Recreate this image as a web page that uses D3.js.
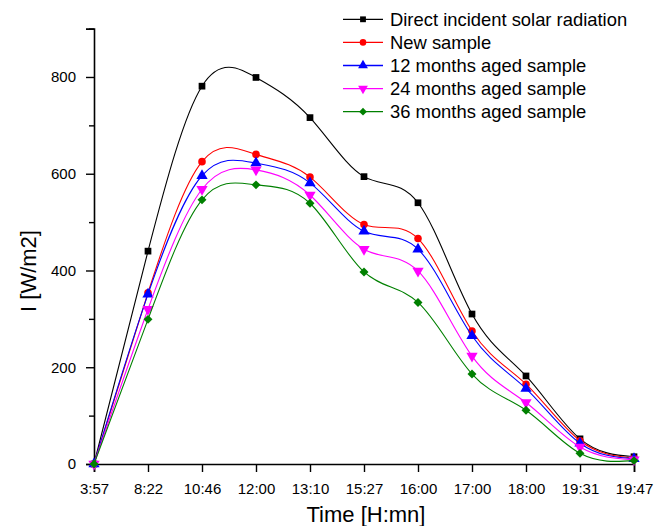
<!DOCTYPE html>
<html><head><meta charset="utf-8">
<script src="https://cdn.jsdelivr.net/npm/d3@7"></script>
<style>body{margin:0;background:#fff}svg{display:block}text{font-family:"Liberation Sans",Arial,sans-serif}</style>
</head><body><svg id="c" width="656" height="526"></svg>
<script>
const times = ["3:57","8:22","10:46","12:00","13:10","15:27","16:00","17:00","18:00","19:31","19:47"];
const direct = [0,440,781,799,716,594,540,310,182,52,15];
const newSample = [0,354,625,640,593,495,466,275,165,48,12];
const aged12 = [0,351,596,622,581,481,444,265,156,43,11];
const aged24 = [0,320,568,608,556,444,399,223,127,35,9];
const aged36 = [0,299,546,577,539,397,334,186,111,22,7];
const seriesNames = ["Direct incident solar radiation","New sample","12 months aged sample","24 months aged sample","36 months aged sample"];
const seriesColors = ["#000000","#ff0000","#0000ff","#ff00ff","#008000"];
const seriesSymbols = ["square","circle","up","down","diamond"];
const yTicks = [0,200,400,600,800];
const yMinor = [100,300,500,700,900];
const seriesData = [direct,newSample,aged12,aged24,aged36];

const svg = d3.select("#c");
const x0 = 94, x1 = 634, yb = 464;
const x = d3.scalePoint().domain(times).range([x0,x1]);
const y = d3.scaleLinear().domain([0,900]).range([yb,28.6]);

// axes
svg.append("g").attr("transform",`translate(0,${yb})`)
  .call(d3.axisBottom(x).tickSizeOuter(0).tickSize(8).tickPadding(11));
svg.append("g").attr("transform",`translate(${x0},0)`)
  .call(d3.axisLeft(y).tickValues(yTicks).tickSizeOuter(0).tickSize(8).tickPadding(10));
svg.append("g").attr("transform",`translate(${x0},0)`)
  .call(d3.axisLeft(y).tickValues(yMinor).tickSizeOuter(0).tickSize(5).tickFormat(""))
  .select(".domain").remove();
svg.selectAll(".domain").attr("stroke","#000").attr("stroke-width",1.6);
svg.selectAll(".tick line").attr("stroke","#000").attr("stroke-width",1.4);
svg.selectAll(".tick text").attr("font-size",15).attr("fill","#000").style("font-family","'Liberation Sans',Arial,sans-serif");

// axis titles
svg.append("text").attr("x",366).attr("y",522).attr("text-anchor","middle").attr("font-size",22).text("Time [H:mn]");
svg.append("text").attr("transform","translate(36,271) rotate(-90)").attr("text-anchor","middle").attr("font-size",22).text("I [W/m2]");

function symPath(s, scale){
  const sz = {square:45, circle:45, up:55, down:55, diamond:40}[s] * scale;
  const type = {square:d3.symbolSquare, circle:d3.symbolCircle, up:d3.symbolTriangle, down:d3.symbolTriangle, diamond:d3.symbolSquare}[s];
  return d3.symbol(type, sz)();
}
function symRot(s){ return s==="down" ? " rotate(180)" : (s==="diamond" ? " rotate(45)" : ""); }

const line = d3.line().x((d,i)=>x(times[i])).y(d=>y(d)).curve(d3.curveNatural);
seriesData.forEach((data,k)=>{
  const g = svg.append("g");
  g.append("path").datum(data).attr("d",line).attr("fill","none").attr("stroke",seriesColors[k]).attr("stroke-width",1.1);
  g.selectAll("path.m").data(data).join("path").attr("class","m")
    .attr("d",symPath(seriesSymbols[k],1))
    .attr("transform",(d,i)=>`translate(${x(times[i])},${y(d)})${symRot(seriesSymbols[k])}`)
    .attr("fill",seriesColors[k]);
});

// legend
const lg = svg.append("g");
seriesNames.forEach((n,k)=>{
  const yy = 19.3 + k*23.1;
  lg.append("line").attr("x1",343).attr("x2",383).attr("y1",yy).attr("y2",yy).attr("stroke",seriesColors[k]).attr("stroke-width",1.3);
  lg.append("path").attr("d",symPath(seriesSymbols[k],0.75))
    .attr("transform",`translate(363,${yy})${symRot(seriesSymbols[k])}`).attr("fill",seriesColors[k]);
  lg.append("text").attr("x",390).attr("y",yy+6.5).attr("font-size",18.4).text(n);
});
</script></body></html>
